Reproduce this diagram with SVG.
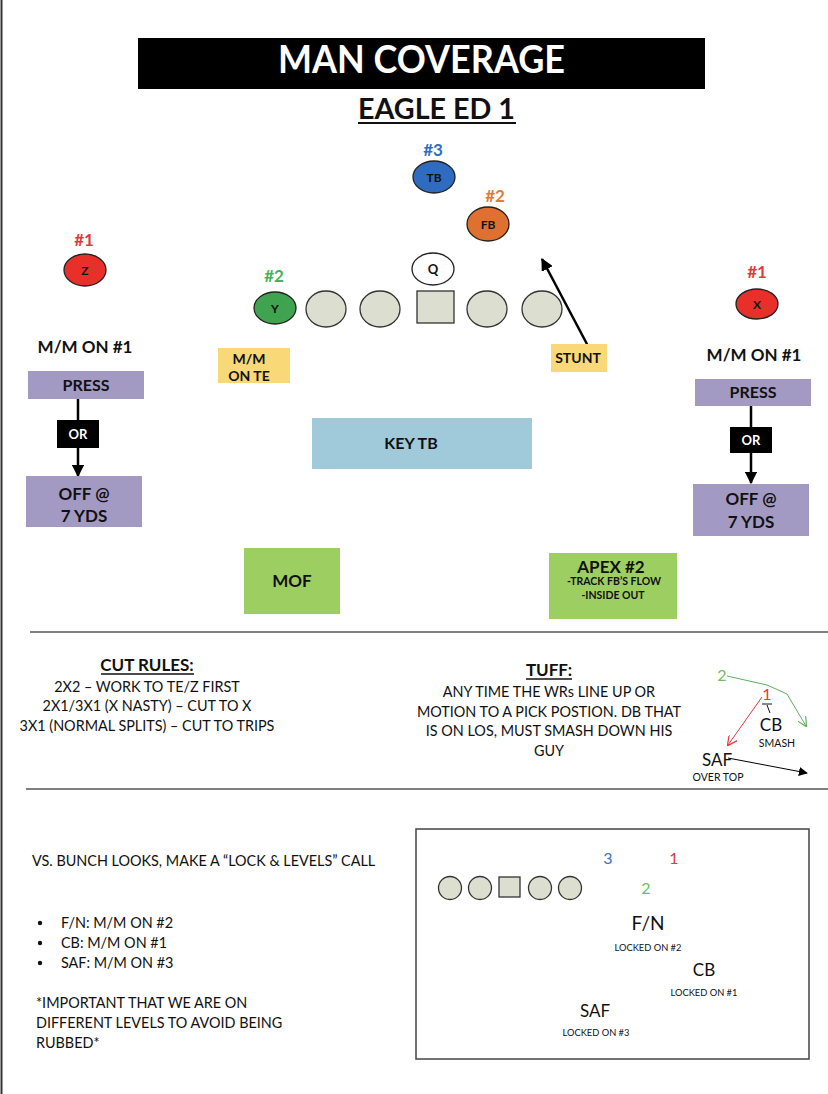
<svg xmlns="http://www.w3.org/2000/svg" width="828" height="1094" viewBox="0 0 828 1094">
<style>
text{font-family:Lato,"Liberation Sans",sans-serif;}
.b{font-weight:bold;}
.c{text-anchor:middle;}
.ol{fill:#DCDFCF;stroke:#333;stroke-width:1.3;}
.pl{stroke:#222;stroke-width:1.3;}
.purple{fill:#A39AC4;}
.yellow{fill:#F9D878;}
.green{fill:#9DCE62;}
.hr{stroke:#555;stroke-width:1.5;}
.body{font-size:14.4px;fill:#111;}
.lk{font-size:9.3px;fill:#111;}
</style>
<defs>
<marker id="ah" viewBox="0 0 10 10" refX="9" refY="5" markerWidth="5" markerHeight="5" orient="auto" markerUnits="strokeWidth"><path d="M0,0 L10,5 L0,10 z" fill="#000"/></marker>
<marker id="ahs" viewBox="0 0 10 10" refX="9" refY="5" markerWidth="9" markerHeight="9" orient="auto" markerUnits="strokeWidth"><path d="M0,0 L10,5 L0,10 z" fill="#000"/></marker>
<marker id="vg" viewBox="0 0 10 10" refX="9" refY="5" markerWidth="10" markerHeight="10" orient="auto" markerUnits="strokeWidth"><path d="M0,0 L10,5 L0,10" fill="none" stroke="#5DAF62" stroke-width="1.2"/></marker>
<marker id="vr" viewBox="0 0 10 10" refX="9" refY="5" markerWidth="10" markerHeight="10" orient="auto" markerUnits="strokeWidth"><path d="M0,0 L10,5 L0,10" fill="none" stroke="#E03A3A" stroke-width="1.2"/></marker>
</defs>
<rect width="828" height="1094" fill="#fff"/>
<line x1="1.5" y1="0" x2="1.5" y2="1094" stroke="#333" stroke-width="2"/>

<g id="title">
<rect x="138" y="38" width="567" height="51" fill="#000"/>
<text x="278" y="73" font-weight="bold" font-size="38" fill="#fff" textLength="287" lengthAdjust="spacingAndGlyphs">MAN COVERAGE</text>
<text x="358" y="119" font-weight="bold" font-size="28" fill="#111" textLength="157" lengthAdjust="spacingAndGlyphs">EAGLE ED 1</text>
<line x1="358" y1="123" x2="516" y2="123" stroke="#111" stroke-width="2"/>
</g>

<g id="connectors">
<line x1="78" y1="399" x2="78" y2="476" stroke="#000" stroke-width="2.5" marker-end="url(#ah)"/>
<line x1="751" y1="406" x2="751" y2="483" stroke="#000" stroke-width="2.5" marker-end="url(#ah)"/>
<line x1="588" y1="346" x2="542" y2="259" stroke="#000" stroke-width="2.5" marker-end="url(#ah)"/>
</g>

<g id="node-tb">
<text x="433" y="156" class="b c" font-size="17" fill="#2F6FBF">#3</text>
<ellipse cx="434" cy="177" rx="21" ry="16" fill="#2F6CC0" class="pl"/>
<text x="434" y="181.5" class="b c" font-size="12" fill="#111">TB</text>
</g>
<g id="node-fb">
<text x="495" y="202" class="b c" font-size="17" fill="#E07A35">#2</text>
<ellipse cx="488" cy="224" rx="21" ry="17" fill="#E07030" class="pl"/>
<text x="488" y="228.5" class="b c" font-size="12" fill="#111">FB</text>
</g>
<g id="node-q">
<ellipse cx="433" cy="269" rx="21" ry="16" fill="#fff" class="pl"/>
<text x="433" y="274" class="b c" font-size="13" fill="#111">Q</text>
</g>
<g id="node-y">
<text x="274" y="282" class="b c" font-size="17" fill="#4AAE5A">#2</text>
<ellipse cx="275" cy="308" rx="21" ry="16" fill="#3FA350" class="pl"/>
<text x="275" y="312.5" class="b c" font-size="12" fill="#111">Y</text>
</g>
<g id="node-line">
<ellipse cx="326" cy="309" rx="20" ry="18" class="ol"/>
<ellipse cx="380" cy="309" rx="20" ry="18" class="ol"/>
<rect x="417" y="291" width="37" height="32" class="ol"/>
<ellipse cx="487" cy="309" rx="20" ry="18" class="ol"/>
<ellipse cx="542" cy="309" rx="20" ry="18" class="ol"/>
</g>
<g id="node-z">
<text x="84" y="246" class="b c" font-size="17" fill="#E03A3A">#1</text>
<ellipse cx="85" cy="270" rx="21" ry="16" fill="#E8302A" class="pl"/>
<text x="85" y="274.5" class="b c" font-size="12" fill="#111">Z</text>
</g>
<g id="node-x">
<text x="757" y="278" class="b c" font-size="17" fill="#E03A3A">#1</text>
<ellipse cx="757" cy="304" rx="21" ry="15" fill="#E8302A" class="pl"/>
<text x="757" y="308.5" class="b c" font-size="12" fill="#111">X</text>
</g>

<g id="left-cb">
<text x="85" y="353" class="b c" font-size="17" fill="#111">M/M ON #1</text>
<rect x="28" y="371" width="116" height="28" class="purple"/>
<text x="86" y="390.5" class="b c" font-size="16" fill="#111">PRESS</text>
<rect x="57" y="420" width="42" height="28" fill="#000"/>
<text x="78" y="439" class="b c" font-size="13" fill="#fff">OR</text>
<rect x="26" y="476" width="116" height="51" class="purple"/>
<text x="84" y="500" class="b c" font-size="17" fill="#111">OFF @</text>
<text x="84" y="522" class="b c" font-size="17" fill="#111">7 YDS</text>
</g>

<g id="right-cb">
<text x="754" y="361" class="b c" font-size="17" fill="#111">M/M ON #1</text>
<rect x="695" y="379" width="116" height="27" class="purple"/>
<text x="753" y="398" class="b c" font-size="16" fill="#111">PRESS</text>
<rect x="730" y="427" width="42" height="26" fill="#000"/>
<text x="751" y="445" class="b c" font-size="13" fill="#fff">OR</text>
<rect x="693" y="484" width="116" height="52" class="purple"/>
<text x="751" y="505" class="b c" font-size="17" fill="#111">OFF @</text>
<text x="751" y="528" class="b c" font-size="17" fill="#111">7 YDS</text>
</g>

<g id="mm-te">
<rect x="218" y="348" width="72" height="35" class="yellow"/>
<text x="249" y="364" class="b c" font-size="14" fill="#111">M/M</text>
<text x="249" y="381" class="b c" font-size="14" fill="#111">ON TE</text>
</g>
<g id="stunt">
<rect x="551" y="344" width="56" height="28" class="yellow"/>
<text x="578" y="363" class="b c" font-size="14" fill="#111">STUNT</text>
</g>
<g id="key-tb">
<rect x="312" y="418" width="220" height="51" fill="#A0C9DA"/>
<text x="411" y="449" class="b c" font-size="16" fill="#111">KEY TB</text>
</g>
<g id="mof">
<rect x="244" y="548" width="96" height="66" class="green"/>
<text x="292" y="587" class="b c" font-size="17" fill="#111">MOF</text>
</g>
<g id="apex">
<rect x="549" y="553" width="128" height="66" class="green"/>
<text x="611" y="573" class="b c" font-size="17" fill="#111">APEX #2</text>
<text x="614" y="585" class="b c" font-size="10.5" fill="#111">-TRACK FB’S FLOW</text>
<text x="613" y="599" class="b c" font-size="10.5" fill="#111">-INSIDE OUT</text>
</g>

<line x1="30" y1="632" x2="828" y2="632" class="hr"/>
<line x1="26" y1="789" x2="828" y2="789" class="hr"/>

<g id="cut-rules">
<text x="147" y="671" class="b c" font-size="17" fill="#111">CUT RULES:</text>
<line x1="101" y1="674" x2="194" y2="674" stroke="#111" stroke-width="1.3"/>
<text x="147" y="692" class="c body">2X2 – WORK TO TE/Z FIRST</text>
<text x="147" y="711" class="c body">2X1/3X1 (X NASTY) – CUT TO X</text>
<text x="147" y="731" class="c body">3X1 (NORMAL SPLITS) – CUT TO TRIPS</text>
</g>

<g id="tuff">
<text x="549" y="676" class="b c" font-size="17" fill="#111">TUFF:</text>
<line x1="526" y1="679" x2="572" y2="679" stroke="#111" stroke-width="1.3"/>
<text x="549" y="697" class="c body">ANY TIME THE WRs LINE UP OR</text>
<text x="549" y="717" class="c body">MOTION TO A PICK POSTION. DB THAT</text>
<text x="549" y="736" class="c body">IS ON LOS, MUST SMASH DOWN HIS</text>
<text x="549" y="756" class="c body">GUY</text>
</g>

<g id="tuff-diagram">
<polyline points="727,676 767,685 787,694 806,726" fill="none" stroke="#5DAF62" stroke-width="1" marker-end="url(#vg)"/>
<line x1="762" y1="697" x2="728" y2="745" stroke="#E03A3A" stroke-width="1" marker-end="url(#vr)"/>
<line x1="728" y1="758" x2="807" y2="773" stroke="#000" stroke-width="1" marker-end="url(#ahs)"/>
<text x="722" y="681" class="c" font-size="16" fill="#6CBF5E">2</text>
<text x="767" y="700" class="c" font-size="16" fill="#E03A3A">1</text>
<line x1="762" y1="704" x2="772" y2="704" stroke="#111" stroke-width="1"/>
<line x1="767" y1="705" x2="770" y2="713" stroke="#111" stroke-width="1"/>
<text x="771" y="731" class="c" font-size="17" fill="#111">CB</text>
<text x="777" y="747" class="c" font-size="10.5" fill="#111">SMASH</text>
<text x="717" y="766" class="c" font-size="17" fill="#111">SAF</text>
<text x="718" y="781" class="c" font-size="10.5" fill="#111">OVER TOP</text>
</g>

<g id="bunch-text">
<text x="32" y="866" class="body">VS. BUNCH LOOKS, MAKE A “LOCK &amp; LEVELS” CALL</text>
<circle cx="40" cy="923" r="2.2" fill="#111"/>
<circle cx="40" cy="943" r="2.2" fill="#111"/>
<circle cx="40" cy="963" r="2.2" fill="#111"/>
<text x="61" y="928" class="body">F/N: M/M ON #2</text>
<text x="61" y="948" class="body">CB: M/M ON #1</text>
<text x="61" y="968" class="body">SAF: M/M ON #3</text>
<text x="36" y="1008" class="body">*IMPORTANT THAT WE ARE ON</text>
<text x="36" y="1028" class="body">DIFFERENT LEVELS TO AVOID BEING</text>
<text x="36" y="1048" class="body">RUBBED*</text>
</g>

<g id="bunch-diagram">
<rect x="416" y="829" width="393" height="230" fill="#fff" stroke="#444" stroke-width="1.5"/>
<circle cx="450" cy="888" r="11.5" class="ol"/>
<circle cx="480" cy="888" r="11.5" class="ol"/>
<rect x="499" y="877" width="21" height="20" class="ol"/>
<circle cx="540" cy="888" r="11.5" class="ol"/>
<circle cx="570" cy="888" r="11.5" class="ol"/>
<text x="608" y="864" class="c" font-size="16" fill="#3A74C4">3</text>
<text x="674" y="864" class="c" font-size="16" fill="#E03A3A">1</text>
<text x="646" y="894" class="c" font-size="16" fill="#6CBF5E">2</text>
<text x="648" y="930" class="c" font-size="19" fill="#111">F/N</text>
<text x="648" y="951" class="c lk">LOCKED ON #2</text>
<text x="704" y="976" class="c" font-size="17" fill="#111">CB</text>
<text x="704" y="996" class="c lk">LOCKED ON #1</text>
<text x="595" y="1017" class="c" font-size="17" fill="#111">SAF</text>
<text x="596" y="1036" class="c lk">LOCKED ON #3</text>
</g>
</svg>
